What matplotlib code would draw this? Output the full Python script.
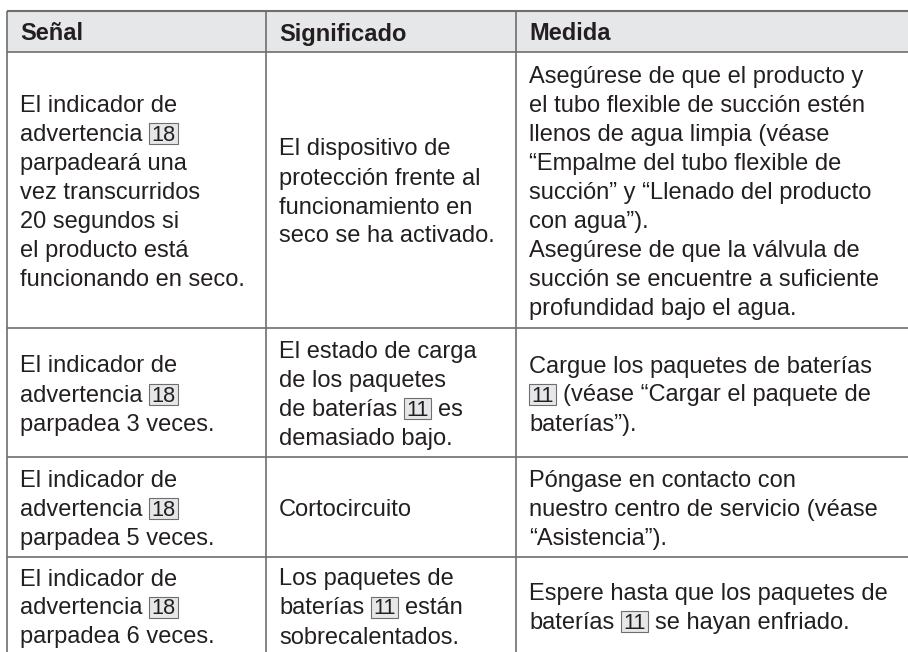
import re
import matplotlib
matplotlib.use("Agg")
import matplotlib.pyplot as plt
from matplotlib.patches import Rectangle

# Contenido de la tabla
encabezados = ["Señal", "Significado", "Medida"]

senal = [
    ["El indicador de", "advertencia [18]", "parpadeará una", "vez transcurridos",
     "20 segundos si", "el producto está", "funcionando en seco."],
    ["El indicador de", "advertencia [18]", "parpadea 3 veces."],
    ["El indicador de", "advertencia [18]", "parpadea 5 veces."],
    ["El indicador de", "advertencia [18]", "parpadea 6 veces."],
]

significado = [
    ["El dispositivo de", "protección frente al", "funcionamiento en", "seco se ha activado."],
    ["El estado de carga", "de los paquetes", "de baterías [11] es", "demasiado bajo."],
    ["Cortocircuito"],
    ["Los paquetes de", "baterías [11] están", "sobrecalentados."],
]

medida = [
    ["Asegúrese de que el producto y", "el tubo flexible de succión estén",
     "llenos de agua limpia (véase", "“Empalme del tubo flexible de",
     "succión” y “Llenado del producto", "con agua”).",
     "Asegúrese de que la válvula de", "succión se encuentre a suficiente",
     "profundidad bajo el agua."],
    ["Cargue los paquetes de baterías", "[11] (véase “Cargar el paquete de",
     "baterías”)."],
    ["Póngase en contacto con", "nuestro centro de servicio (véase",
     "“Asistencia”)."],
    ["Espere hasta que los paquetes de", "baterías [11] se hayan enfriado."],
]

# Geometría (píxeles)
W, H = 908, 652
col_x = [7, 266, 516]
row_y = [11, 52, 328, 457, 557, 654]
PAD_X = 13
LINE_H = 29
BASE_OFF = 9

FONT = ["Liberation Sans", "DejaVu Sans"]
FONT_NUM = ["Liberation Sans Narrow", "DejaVu Sans Condensed", "Liberation Sans"]
FS = 17
TXT = "#231f20"
GRIS = "#e6e7e8"
LINEA = "#6e6e6e"

fig = plt.figure(figsize=(W / 100, H / 100), dpi=100)
ax = fig.add_axes([0, 0, 1, 1])
ax.set_xlim(0, W)
ax.set_ylim(H, 0)
ax.axis("off")
renderer = fig.canvas.get_renderer()


def ancho(s, **kw):
    t = ax.text(0, 0, s, fontsize=kw.get("fontsize", FS), family=kw.get("family", FONT),
                fontweight=kw.get("fontweight", "normal"))
    w = t.get_window_extent(renderer).width
    t.remove()
    return w


ESPACIO = ancho("a a") - ancho("aa")


def dibujar_linea(x, y, linea, **kw):
    partes = re.split(r"(\[\d+\])", linea)
    for p in partes:
        if not p:
            continue
        if p.startswith("["):
            num = p[1:-1]
            w = ancho(num, fontsize=FS * 0.92, family=FONT_NUM)
            bw = w + 5
            ax.add_patch(Rectangle((x, y - 18), bw, 21, fc=GRIS, ec=LINEA, lw=0.8, zorder=2))
            ax.text(x + 2.5, y, num, fontsize=FS * 0.92, family=FONT_NUM, color=TXT,
                    va="baseline", ha="left", zorder=3)
            x += bw
        else:
            ini = len(p) - len(p.lstrip(" "))
            fin = len(p) - len(p.rstrip(" "))
            x += ini * ESPACIO
            s = p.strip(" ")
            if s:
                ax.text(x, y, s, fontsize=FS, family=FONT, color=TXT,
                        va="baseline", ha="left", **kw)
                x += ancho(s, **kw)
            x += fin * ESPACIO


def dibujar_celda(x0, y_top, y_bot, lineas, **kw):
    centro = (y_top + y_bot) / 2 + BASE_OFF
    n = len(lineas)
    for i, linea in enumerate(lineas):
        y = centro + (i - (n - 1) / 2) * LINE_H
        dibujar_linea(x0 + PAD_X, y, linea, **kw)


# Fondo del encabezado
ax.add_patch(Rectangle((col_x[0], row_y[0]), W - col_x[0], row_y[1] - row_y[0],
                       fc=GRIS, ec="none", zorder=0))

# Líneas de la tabla
ax.hlines(row_y[0], col_x[0], W, color=LINEA, lw=1.5)
ax.hlines(row_y[1:], col_x[0], W, color=LINEA, lw=1.2)
ax.vlines(col_x, row_y[0], row_y[-1], color=LINEA, lw=1.2)

for j, h in enumerate(encabezados):
    dibujar_celda(col_x[j], row_y[0], row_y[1], [h], fontweight="bold")

for i in range(len(senal)):
    for j, col in enumerate([senal, significado, medida]):
        dibujar_celda(col_x[j], row_y[i + 1], row_y[i + 2], col[i])

fig.savefig("out.png", dpi=100)
